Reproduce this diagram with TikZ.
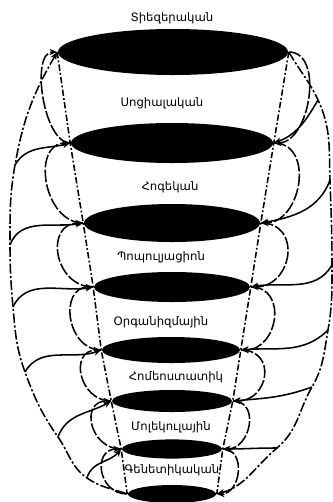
\documentclass[tikz,border=0pt]{standalone}
\usepackage{fontspec}
\newfontfamily\armfont[Script=Armenian]{DejaVu Sans}
\usetikzlibrary{shapes.geometric,arrows.meta}

\begin{document}
\begin{tikzpicture}[x=0.025cm, y=0.025cm, line width=1.1pt,
  disc/.style={ellipse, fill=black, inner sep=0pt},
  lab/.style={font=\armfont\fontsize{8.3}{9}\selectfont},
  cone/.style={dash pattern=on 4.5pt off 1.6pt on 1.3pt off 1.6pt},
  outer/.style={dash pattern=on 7pt off 1.6pt on 1.6pt off 1.6pt},
  lp/.style={dash pattern=on 9pt off 1.6pt},
  a/.style={-{Stealth[length=5.5pt,width=4.5pt]}}]

  \useasboundingbox (0,0) rectangle (332,-502);

  % levels, top to bottom
  \node[disc, minimum width=5.75cm, minimum height=1.15cm] (e1) at (173,-52) {};
  \node[disc, minimum width=5.05cm, minimum height=1.0cm]  (e2) at (172,-143) {};
  \node[disc, minimum width=4.4cm,  minimum height=0.95cm] (e3) at (172,-223) {};
  \node[disc, minimum width=3.9cm,  minimum height=0.75cm] (e4) at (172,-287) {};
  \node[disc, minimum width=3.45cm, minimum height=0.65cm] (e5) at (171,-350) {};
  \node[disc, minimum width=3.0cm,  minimum height=0.55cm] (e6) at (172,-401) {};
  \node[disc, minimum width=2.5cm,  minimum height=0.48cm] (e7) at (172,-449) {};
  \node[disc, minimum width=2.2cm,  minimum height=0.45cm] (e8) at (172,-494) {};

  % level names
  \node[lab] (t1) at (172,-18)  {Տիեզերական};
  \node[lab] (t2) at (162,-103) {Սոցիալական};
  \node[lab] (t3) at (170,-187) {Հոգեկան};
  \node[lab] (t4) at (161,-257) {Պոպուլյացիոն};
  \node[lab] (t5) at (161,-322) {Օրգանիզմային};
  \node[lab] (t6) at (176,-377) {Հոմեոստատիկ};
  \node[lab] (t7) at (171,-427) {Մոլեկուլային};
  \node[lab] (t8) at (172,-470) {Գենետիկական};

  % points on the outer lines
  \coordinate (o2) at (15,-165);
  \coordinate (o3) at (10,-245);
  \coordinate (o4) at (13,-307);
  \coordinate (o5) at (25,-372);
  \coordinate (o6) at (58,-437);
  \coordinate (o7) at (87,-478);
  \coordinate (p2) at (318,-100);
  \coordinate (p3) at (330,-180);
  \coordinate (p4) at (332,-265);
  \coordinate (p5) at (328,-330);
  \coordinate (p6) at (312,-387);
  \coordinate (p7) at (277,-448);

  % cone through the ends
  \draw[cone] (e1.west) -- (e2.west) -- (e3.west) -- (e4.west) -- (e5.west)
    -- (e6.west) -- (e7.west) -- (e8.west);
  \draw[cone] (e1.east) -- (e2.east) -- (e3.east) -- (e4.east) -- (e5.east)
    -- (e6.east) -- (e7.east) -- (e8.east);

  % outer lines
  \draw[outer, {Stealth[length=5.5pt,width=4.5pt]}-] (e1.west) to[out=240, in=80] (o2)
    to[out=260, in=90] (o3) to[out=270, in=95] (o4) to[out=275, in=110] (o5)
    to[out=290, in=125] (o6) to[out=305, in=145] (o7) to[out=325, in=160] (e8.west);
  \draw[outer, a] (e1.east) to[out=-60, in=115] (p2)
    to[out=-65, in=92] (p3) to[out=-88, in=90] (p4) to[out=-90, in=80] (p5)
    to[out=-100, in=60] (p6) to[out=-120, in=40] (p7) to[out=-140, in=15] (e8.east);

  % branches from the outer lines
  \draw[a] (o2) to[out=60, in=195] (e2.west);
  \draw[a] (o3) to[out=70, in=190] (e3.west);
  \draw[a] (o4) to[out=65, in=190] (e4.west);
  \draw[a] (o5) to[out=60, in=200] (e5.west);
  \draw[a] (o6) to[out=70, in=210] (e6.west);
  \draw[a] (o7) to[out=75, in=230] (e7.west);
  \draw[a] (p2) to[out=240, in=20] (e2.east);
  \draw[a] (p3) to[out=250, in=10] (e3.east);
  \draw[a] (p4) to[out=240, in=10] (e4.east);
  \draw[a] (p5) to[out=225, in=5]  (e5.east);
  \draw[a] (p6) to[out=200, in=5]  (e6.east);
  \draw[a] (p7) to[out=180, in=0]  (e7.east);

  % loops between neighbouring levels, left
  \draw[lp, a] (e2.west) to[out=180, in=180, looseness=0.75] (e1.west);
  \draw[lp, a] (e3.west) to[out=180, in=180, looseness=1.25] (e2.west);
  \draw[lp, a] (e4.west) to[out=180, in=180, looseness=1.55] (e3.west);
  \draw[lp, a] (e5.west) to[out=180, in=180, looseness=1.4]  (e4.west);
  \draw[lp, a] (e6.west) to[out=180, in=180, looseness=1.6]  (e5.west);
  \draw[lp, a] (e7.west) to[out=180, in=180, looseness=1.65] (e6.west);
  \draw[lp, a] (e8.west) to[out=180, in=180, looseness=1.65] (e7.west);

  % loops between neighbouring levels, right
  \draw[lp, a] (e1.east) to[out=0, in=0, looseness=1.0]  (e2.east);
  \draw[lp, a] (e2.east) to[out=0, in=0, looseness=1.3]  (e3.east);
  \draw[lp, a] (e3.east) to[out=0, in=0, looseness=1.65] (e4.east);
  \draw[lp, a] (e4.east) to[out=0, in=0, looseness=1.5]  (e5.east);
  \draw[lp, a] (e5.east) to[out=0, in=0, looseness=1.8]  (e6.east);
  \draw[lp, a] (e6.east) to[out=0, in=0, looseness=1.45] (e7.east);
  \draw[lp, a] (e7.east) to[out=0, in=0, looseness=1.35] (e8.east);

\end{tikzpicture}
\end{document}
